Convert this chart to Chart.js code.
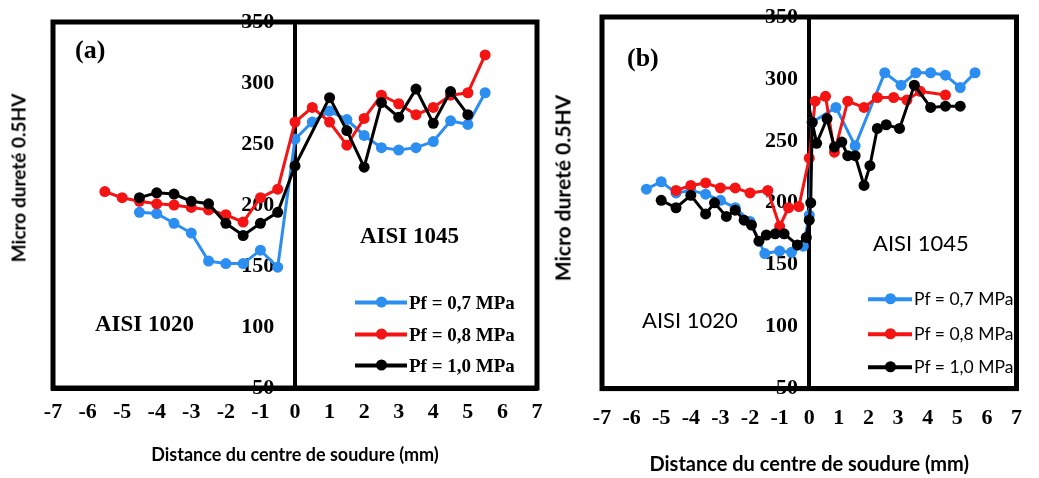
<!DOCTYPE html>
<html><head><meta charset="utf-8">
<script src="https://cdn.jsdelivr.net/npm/chart.js@4.4.1/dist/chart.umd.min.js"></script>
<style>
body{margin:0;background:#fff;width:1039px;height:478px;overflow:hidden;position:relative;}
canvas{position:absolute;top:0;}
.t{position:absolute;white-space:nowrap;line-height:1;transform:translateY(-50%);color:#000;}
.serif{font-family:"Liberation Serif","Times New Roman",serif;font-weight:bold;}
.sans{font-family:Lato,"Liberation Sans",sans-serif;}
.ytitle{position:absolute;font-family:Lato,"Liberation Sans",Arial,sans-serif;font-weight:bold;white-space:nowrap;line-height:1;transform:translate(-50%,-50%) rotate(-90deg);}
.leg{position:absolute;display:flex;align-items:center;transform:translateY(-50%);white-space:nowrap;line-height:1;}
.leg .s{position:relative;height:4px;margin-right:2px;}
.leg .s i{position:absolute;left:50%;top:50%;width:11px;height:11px;margin:-5.5px 0 0 -5.5px;border-radius:50%;}
</style></head><body>
<canvas id="ca" width="560" height="478" style="left:0"></canvas>
<canvas id="cb" width="479" height="478" style="left:560px"></canvas>

<div class="ytitle" style="left:18px;top:178px;font-size:19px;">Micro dureté 0.5HV</div>
<div class="ytitle" style="left:562px;top:188px;font-size:21px;">Micro dureté 0.5HV</div>

<div class="t serif" style="left:75px;top:50px;font-size:26px;">(a)</div>
<div class="t serif" style="left:95px;top:323px;font-size:23px;">AISI 1020</div>
<div class="t serif" style="left:360px;top:235px;font-size:23px;">AISI 1045</div>

<div class="t serif" style="left:627px;top:58px;font-size:26px;">(b)</div>
<div class="t sans" style="left:642px;top:320px;font-size:22px;">AISI 1020</div>
<div class="t sans" style="left:873px;top:243px;font-size:22px;">AISI 1045</div>

<div id="legA"></div>
<div id="legB"></div>

<script>
// ---- data ----
const seriesLabels = ["Pf = 0,7 MPa", "Pf = 0,8 MPa", "Pf = 1,0 MPa"];
const seriesColors = ["#2b8ef0", "#f41414", "#000000"];
const xTicks = [-7,-6,-5,-4,-3,-2,-1,0,1,2,3,4,5,6,7];
const yTicks = [50,100,150,200,250,300,350];
const xTitle = "Distance du centre de soudure (mm)";

// panel (a)
const aDist07 = [-4.5,-4,-3.5,-3,-2.5,-2,-1.5,-1,-0.5,0,0.5,1,1.5,2,2.5,3,3.5,4,4.5,5,5.5];
const aHv07   = [194,193,185,177,154,152,152,163,149,254,268,277,270,257,247,245,247,252,269,266,292];
const aDist08 = [-5.5,-5,-4.5,-4,-3.5,-3,-2.5,-2,-1.5,-1,-0.5,0,0.5,1,1.5,2,2.5,3,3.5,4,4.5,5,5.5];
const aHv08   = [211,206,203,201,200,198,196,192,186,206,213,268,280,268,249,271,290,283,274,280,290,292,323];
const aDist10 = [-4.5,-4,-3.5,-3,-2.5,-2,-1.5,-1,-0.5,0,1,1.5,2,2.5,3,3.5,4,4.5,5];
const aHv10   = [206,210,209,203,201,185,175,185,194,232,288,261,231,284,272,295,267,293,274];

// panel (b)
const bDist07 = [-5.5,-5,-4.5,-4,-3.5,-3,-2.5,-2,-1.5,-1,-0.6,-0.2,0,0.1,0.9,1.55,2.55,3.1,3.6,4.1,4.6,5.1,5.6];
const bHv07   = [211,217,208,210,207,202,196,185,159,161,160,165,190,265,277,246,305,295,305,305,303,293,305];
const bDist08 = [-4.5,-4,-3.5,-3,-2.5,-2,-1.4,-1,-0.7,-0.35,0,0.2,0.55,0.85,1.3,1.85,2.3,2.85,3.3,3.75,4.6];
const bHv08   = [210,214,216,212,212,208,210,181,196,197,236,282,286,241,282,277,285,285,283,290,287];
const bDist10 = [-5,-4.5,-4,-3.5,-3.2,-2.8,-2.5,-2.2,-1.95,-1.7,-1.45,-1.15,-0.85,-0.4,-0.1,0,0.05,0.1,0.25,0.6,0.85,1.1,1.3,1.55,1.85,2.05,2.3,2.6,3.05,3.55,4.1,4.6,5.1];
const bHv10   = [202,196,206,191,200,189,194,186,182,169,174,175,175,166,172,186,200,265,248,268,245,249,238,238,214,230,260,263,260,295,277,278,278];

// ---- chart building ----
const SERIF = '"Liberation Serif","Times New Roman",serif';
const SANS = 'Lato,"Liberation Sans",sans-serif';

const boxPlugin = {
  id: 'box',
  beforeDatasetsDraw(chart) {
    const {ctx, chartArea: a} = chart;
    ctx.save();
    ctx.lineWidth = 5;
    ctx.strokeStyle = '#000';
    ctx.strokeRect(a.left, a.top, a.right - a.left, a.bottom - a.top);
    ctx.restore();
  }
};

function ds(i, xs, ys) {
  return {
    label: seriesLabels[i],
    data: xs.map((x, k) => ({x: x, y: ys[k]})),
    borderColor: seriesColors[i],
    backgroundColor: seriesColors[i],
    pointBackgroundColor: seriesColors[i],
    borderWidth: 3,
    pointRadius: 5.5,
    pointBorderWidth: 0,
    order: 2 - i,
    tension: 0
  };
}

function make(id, p) {
  return new Chart(document.getElementById(id), {
    type: 'line',
    data: {datasets: p.datasets},
    options: {
      responsive: false,
      animation: false,
      devicePixelRatio: 1,
      layout: {padding: {left: p.padL, right: p.padR, top: p.padT, bottom: 0}},
      plugins: {legend: {display: false}, tooltip: {enabled: false}},
      scales: {
        x: {
          type: 'linear', min: -7, max: 7,
          afterBuildTicks: (s) => { s.ticks = xTicks.map(v => ({value: v})); },
          ticks: {
            autoSkip: false, maxRotation: 0, minRotation: 0,
            padding: p.tickPad, color: '#000',
            font: {family: SERIF, weight: 'bold', size: p.xTickSize}
          },
          grid: {
            drawTicks: false,
            color: (c) => (c.tick && c.tick.value === 0) ? '#000' : 'rgba(0,0,0,0)',
            lineWidth: (c) => (c.tick && c.tick.value === 0) ? 4 : 1
          },
          border: {display: true, color: '#000', width: 5},
          title: {
            display: true, text: xTitle, color: '#000',
            font: {family: SANS, weight: 'bold', size: p.titleSize},
            padding: {top: p.titleTop, bottom: p.titleBottom}
          }
        },
        y: {
          type: 'linear', min: 50, max: 350,
          position: {x: p.yAxisAt},
          afterBuildTicks: (s) => { s.ticks = yTicks.map(v => ({value: v})); },
          ticks: {color: '#000', font: {family: SERIF, weight: 'bold', size: p.yTickSize}},
          grid: {display: false, drawTicks: false},
          border: {display: false}
        }
      }
    },
    plugins: [boxPlugin]
  });
}

make('ca', {
  padL: 53, padR: 23, padT: 22,
  tickPad: 11, xTickSize: 22, yTickSize: 22,
  titleSize: 18, titleTop: 8, titleBottom: 12,
  yAxisAt: -0.6,
  datasets: [ds(0, aDist07, aHv07), ds(1, aDist08, aHv08), ds(2, aDist10, aHv10)]
});
make('cb', {
  padL: 42, padR: 11, padT: 17,
  tickPad: 17, xTickSize: 22, yTickSize: 22,
  titleSize: 20, titleTop: 4, titleBottom: 1,
  yAxisAt: -0.38,
  datasets: [ds(0, bDist07, bHv07), ds(1, bDist08, bHv08), ds(2, bDist10, bHv10)]
});

// ---- legends (HTML, inside plot) ----
function legend(el, p) {
  seriesLabels.forEach((lab, i) => {
    const row = document.createElement('div');
    row.className = 'leg';
    row.style.left = p.left + 'px';
    row.style.top = p.rows[i] + 'px';
    row.style.fontFamily = p.font;
    row.style.fontWeight = p.weight;
    row.style.fontSize = p.size + 'px';
    const s = document.createElement('span');
    s.className = 's';
    s.style.width = p.lineW + 'px';
    s.style.background = seriesColors[i];
    const dot = document.createElement('i');
    dot.style.background = seriesColors[i];
    s.appendChild(dot);
    row.appendChild(s);
    const t = document.createElement('span');
    t.textContent = lab;
    row.appendChild(t);
    el.appendChild(row);
  });
}
legend(document.getElementById('legA'), {left: 355, rows: [302, 334, 365], lineW: 52, font: SERIF, weight: 'bold', size: 19});
legend(document.getElementById('legB'), {left: 868, rows: [299, 334, 367], lineW: 44, font: SANS, weight: 'normal', size: 17.5});
</script>
</body></html>
